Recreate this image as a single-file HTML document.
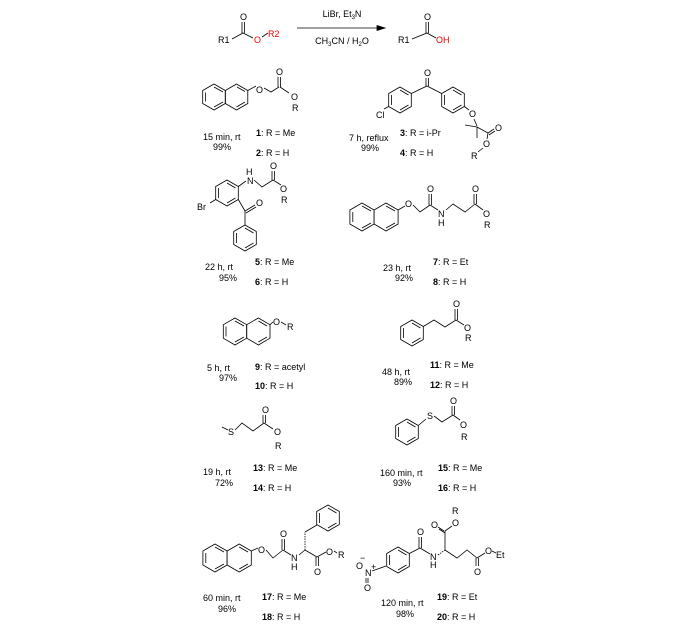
<!DOCTYPE html>
<html><head><meta charset="utf-8"><style>
html,body{margin:0;padding:0;background:#fff}
svg{display:block}
text{font-family:"Liberation Sans",Arial,sans-serif;font-size:9px;fill:#000}
.r{fill:#e00}
line,polyline,polygon{stroke:#000;stroke-width:0.8;fill:none}
.b{font-weight:bold}
</style></head><body>
<svg width="696" height="641" viewBox="0 0 696 641" xmlns="http://www.w3.org/2000/svg">
<!-- header -->
<text x="218" y="43">R1</text>
<polyline points="232,39 243,33 253,38"/>
<line x1="242" y1="33" x2="242" y2="22"/><line x1="244.5" y1="33" x2="244.5" y2="22"/>
<text x="240" y="20">O</text>
<text x="254" y="43" class="r">O</text>
<line x1="262" y1="37" x2="268" y2="33" stroke="#e00"/>
<text x="268" y="37" class="r">R2</text>
<line x1="297" y1="28" x2="380" y2="28"/>
<polygon points="385,28 377,25.5 377,30.5" style="fill:#000"/>
<text x="342" y="17" text-anchor="middle">LiBr, Et<tspan font-size="6" dy="2">3</tspan><tspan dy="-2">N</tspan></text>
<text x="342" y="44" text-anchor="middle">CH<tspan font-size="6" dy="2">3</tspan><tspan dy="-2">CN / H</tspan><tspan font-size="6" dy="2">2</tspan><tspan dy="-2">O</tspan></text>
<text x="398" y="43">R1</text>
<polyline points="412,39 427,33 436,38"/>
<line x1="426" y1="33" x2="426" y2="22"/><line x1="428.5" y1="33" x2="428.5" y2="22"/>
<text x="424" y="20">O</text>
<text x="436" y="43" class="r">OH</text>

<!-- 1/2 -->
<polygon points="214,84 225.3,90.5 225.3,103.5 214,110 202.7,103.5 202.7,90.5"/>
<polygon points="236.5,84 247.8,90.5 247.8,103.5 236.5,110 225.3,103.5 225.3,90.5"/>
<line x1="205.5" y1="92.5" x2="205.5" y2="101.5"/><line x1="214" y1="107" x2="223" y2="102"/><line x1="214" y1="87" x2="223" y2="92"/><line x1="237" y1="87" x2="245" y2="91.5"/><line x1="236.5" y1="107" x2="245" y2="102"/>
<line x1="247.8" y1="90.5" x2="256" y2="86"/>
<text x="256" y="93">O</text>
<polyline points="264,88 271,92 279,87"/>
<line x1="278" y1="87" x2="278" y2="77"/><line x1="280.5" y1="87" x2="280.5" y2="77"/>
<text x="276" y="75">O</text>
<line x1="280" y1="87" x2="289" y2="93"/>
<text x="291" y="100">O</text>
<text x="292" y="111" font-size="8">R</text>
<text x="203" y="140">15 min, rt</text><text x="213" y="150">99%</text>
<text x="256" y="136"><tspan class="b">1</tspan>: R = Me</text>
<text x="256" y="156"><tspan class="b">2</tspan>: R = H</text>

<!-- 3/4 -->
<polygon points="400,87 411.3,93.5 411.3,106.5 400,113 388.7,106.5 388.7,93.5"/>
<polygon points="453,87 464.3,93.5 464.3,106.5 453,113 441.7,106.5 441.7,93.5"/>
<line x1="391.5" y1="95" x2="391.5" y2="105"/><line x1="400" y1="110" x2="408.5" y2="105"/><line x1="400" y1="90" x2="408.5" y2="95"/><line x1="444.5" y1="95" x2="444.5" y2="105"/><line x1="453" y1="90" x2="461.5" y2="95"/><line x1="453" y1="110" x2="461.5" y2="105"/>
<polyline points="411.3,93.5 427,86 441.7,93.5"/>
<line x1="426" y1="86" x2="426" y2="78"/><line x1="428.5" y1="86" x2="428.5" y2="78"/>
<text x="424" y="76">O</text>
<line x1="388.7" y1="106.5" x2="384" y2="109"/>
<text x="376" y="118">Cl</text>
<line x1="464.3" y1="106.5" x2="469" y2="110"/>
<text x="469" y="117">O</text>
<line x1="474" y1="119" x2="477" y2="126"/>
<line x1="477" y1="127" x2="465" y2="125"/><line x1="477" y1="127" x2="477" y2="138"/>
<line x1="477" y1="127" x2="488" y2="133"/>
<line x1="488" y1="133" x2="494" y2="129"/><line x1="489" y1="135" x2="495" y2="131"/>
<text x="495" y="131">O</text>
<line x1="488" y1="133" x2="487" y2="139"/>
<text x="483" y="147">O</text>
<line x1="483" y1="148" x2="478" y2="152"/>
<text x="471" y="159" font-size="8">R</text>
<text x="349" y="141">7 h, reflux</text><text x="361" y="151">99%</text>
<text x="400" y="136"><tspan class="b">3</tspan>: R = i-Pr</text>
<text x="400" y="156"><tspan class="b">4</tspan>: R = H</text>

<!-- 5/6 -->
<polygon points="227,180 238.3,186.5 238.3,199.5 227,206 215.7,199.5 215.7,186.5"/>
<line x1="218.5" y1="188" x2="218.5" y2="198"/><line x1="227" y1="183" x2="235.5" y2="188"/><line x1="227" y1="203" x2="235.5" y2="198"/>
<line x1="215.7" y1="199.5" x2="210" y2="203"/>
<text x="197" y="210">Br</text>
<line x1="238.3" y1="186.5" x2="246" y2="181"/>
<text x="247" y="184">N</text><text x="246" y="175">H</text>
<polyline points="254,180 262,187 273,180"/>
<line x1="272" y1="180" x2="272" y2="171"/><line x1="274.5" y1="180" x2="274.5" y2="171"/>
<text x="270" y="169">O</text>
<line x1="273" y1="180" x2="281" y2="185"/>
<text x="280" y="192">O</text>
<text x="281" y="203" font-size="8">R</text>
<line x1="238.3" y1="199.5" x2="245" y2="211"/>
<line x1="245" y1="211" x2="255" y2="205"/><line x1="246" y1="213" x2="256" y2="207"/>
<text x="256" y="206">O</text>
<line x1="245" y1="211" x2="245" y2="225"/>
<polygon points="245,225 256.3,231.5 256.3,244.5 245,251 233.7,244.5 233.7,231.5"/>
<line x1="236.5" y1="233" x2="236.5" y2="243"/><line x1="245" y1="248" x2="253.5" y2="243"/><line x1="245" y1="228" x2="253.5" y2="233"/>
<text x="205" y="270">22 h, rt</text><text x="219" y="281">95%</text>
<text x="255" y="265"><tspan class="b">5</tspan>: R = Me</text>
<text x="255" y="285"><tspan class="b">6</tspan>: R = H</text>

<!-- 7/8 -->
<polygon points="362,203 374.1,210 374.1,224 362,231 349.9,224 349.9,210"/>
<polygon points="386,203 398.1,210 398.1,224 386,231 374.1,224 374.1,210"/>
<line x1="352.8" y1="212" x2="352.8" y2="222"/><line x1="362" y1="228" x2="371" y2="223"/><line x1="362" y1="206" x2="371" y2="211"/><line x1="386" y1="206" x2="395" y2="211"/><line x1="386" y1="228" x2="395" y2="223"/>
<line x1="398.1" y1="210" x2="405" y2="206"/>
<text x="405" y="207">O</text>
<polyline points="413,205 420,212 430,205"/>
<line x1="429" y1="205" x2="429" y2="194"/><line x1="431.5" y1="205" x2="431.5" y2="194"/>
<text x="427" y="192">O</text>
<line x1="430" y1="205" x2="438" y2="210"/>
<text x="438" y="217">N</text><text x="438" y="226">H</text>
<polyline points="446,210 453,204 465,212 475,204"/>
<line x1="474" y1="204" x2="474" y2="194"/><line x1="476.5" y1="204" x2="476.5" y2="194"/>
<text x="472" y="192">O</text>
<line x1="475" y1="204" x2="483" y2="210"/>
<text x="483" y="217">O</text>
<text x="484" y="228" font-size="8">R</text>
<text x="383" y="271">23 h, rt</text><text x="395" y="281">92%</text>
<text x="433" y="265"><tspan class="b">7</tspan>: R = Et</text>
<text x="433" y="285"><tspan class="b">8</tspan>: R = H</text>

<!-- 9/10 -->
<polygon points="235,318 246.7,324.7 246.7,338.2 235,345 223.3,338.2 223.3,324.7"/>
<polygon points="258.4,318 270,324.7 270,338.2 258.4,345 246.7,338.2 246.7,324.7"/>
<line x1="226" y1="326.5" x2="226" y2="336.5"/><line x1="235" y1="342" x2="244" y2="337"/><line x1="235" y1="321" x2="244" y2="326"/><line x1="258.4" y1="321" x2="267" y2="326"/><line x1="258.4" y1="342" x2="267" y2="337"/>
<line x1="270" y1="324.7" x2="273" y2="322"/>
<text x="273" y="325">O</text>
<line x1="281" y1="322" x2="286" y2="325"/>
<text x="287" y="330" font-size="8">R</text>
<text x="207" y="371">5 h, rt</text><text x="219" y="381">97%</text>
<text x="255" y="370"><tspan class="b">9</tspan>: R = acetyl</text>
<text x="255" y="389"><tspan class="b">10</tspan>: R = H</text>

<!-- 11/12 -->
<polygon points="412,320 423.3,326.5 423.3,339.5 412,346 400.7,339.5 400.7,326.5"/>
<line x1="403.5" y1="328" x2="403.5" y2="338"/><line x1="412" y1="343" x2="420.5" y2="338"/><line x1="412" y1="323" x2="420.5" y2="328"/>
<polyline points="423.3,326.5 434,320 445,327 456,320"/>
<line x1="455" y1="320" x2="455" y2="309"/><line x1="457.5" y1="320" x2="457.5" y2="309"/>
<text x="453" y="307">O</text>
<line x1="456" y1="320" x2="464" y2="325"/>
<text x="464" y="331">O</text>
<text x="465" y="341" font-size="8">R</text>
<text x="382" y="375">48 h, rt</text><text x="394" y="385">89%</text>
<text x="430" y="368"><tspan class="b">11</tspan>: R = Me</text>
<text x="430" y="388"><tspan class="b">12</tspan>: R = H</text>

<!-- 13/14 -->
<line x1="222" y1="427" x2="228" y2="430"/>
<text x="228" y="435">S</text>
<polyline points="235,430 242,423 253,431 264,423"/>
<line x1="263" y1="423" x2="263" y2="415"/><line x1="265.5" y1="423" x2="265.5" y2="415"/>
<text x="262" y="413">O</text>
<line x1="264" y1="423" x2="273" y2="429"/>
<text x="274" y="435">O</text>
<text x="275" y="449" font-size="8">R</text>
<text x="203" y="475">19 h, rt</text><text x="215" y="486">72%</text>
<text x="253" y="471"><tspan class="b">13</tspan>: R = Me</text>
<text x="253" y="491"><tspan class="b">14</tspan>: R = H</text>

<!-- 15/16 -->
<polygon points="407,419 418.3,425.5 418.3,438.5 407,445 395.7,438.5 395.7,425.5"/>
<line x1="398.5" y1="427" x2="398.5" y2="437"/><line x1="407" y1="442" x2="415.5" y2="437"/><line x1="407" y1="422" x2="415.5" y2="427"/>
<line x1="418.3" y1="425.5" x2="426" y2="419"/>
<text x="427" y="419">S</text>
<polyline points="434,416 442,422 453,415"/>
<line x1="452" y1="415" x2="452" y2="406"/><line x1="454.5" y1="415" x2="454.5" y2="406"/>
<text x="450" y="404">O</text>
<line x1="453" y1="415" x2="460" y2="420"/>
<text x="460" y="428">O</text>
<text x="461" y="440" font-size="8">R</text>
<text x="380" y="476">160 min, rt</text><text x="393" y="486">93%</text>
<text x="438" y="471"><tspan class="b">15</tspan>: R = Me</text>
<text x="438" y="491"><tspan class="b">16</tspan>: R = H</text>

<!-- 17/18 -->
<polygon points="215,544 227.1,551 227.1,565 215,572 202.9,565 202.9,551"/>
<polygon points="239.2,544 251.3,551 251.3,565 239.2,572 227.1,565 227.1,551"/>
<line x1="205.8" y1="553" x2="205.8" y2="563"/><line x1="215" y1="569" x2="224" y2="564"/><line x1="215" y1="547" x2="224" y2="552"/><line x1="239.2" y1="547" x2="248" y2="552"/><line x1="239.2" y1="569" x2="248" y2="564"/>
<line x1="251.3" y1="551" x2="258" y2="548"/>
<text x="258" y="553">O</text>
<polyline points="266,550 273,558 283,550"/>
<line x1="282" y1="550" x2="282" y2="539"/><line x1="284.5" y1="550" x2="284.5" y2="539"/>
<text x="280" y="537">O</text>
<line x1="283" y1="550" x2="291" y2="555"/>
<text x="291" y="561">N</text><text x="291" y="570">H</text>
<line x1="299" y1="555" x2="305" y2="550"/>
<line x1="305" y1="550" x2="305" y2="532" stroke-dasharray="1.5,1"/>
<line x1="305" y1="532" x2="317" y2="525"/>
<polygon points="328,505 339.3,511.5 339.3,524.5 328,531 316.7,524.5 316.7,511.5"/>
<line x1="319.5" y1="513" x2="319.5" y2="523"/><line x1="328" y1="528" x2="336.5" y2="523"/><line x1="328" y1="508" x2="336.5" y2="513"/>
<line x1="305" y1="550" x2="317" y2="557"/>
<line x1="316" y1="557" x2="316" y2="566"/><line x1="318.5" y1="557" x2="318.5" y2="566"/>
<text x="314" y="575">O</text>
<line x1="317" y1="557" x2="326" y2="552"/>
<text x="326" y="555">O</text>
<line x1="334" y1="551" x2="337" y2="553"/>
<text x="338" y="558">R</text>
<text x="203" y="601">60 min, rt</text><text x="218" y="612">96%</text>
<text x="262" y="600"><tspan class="b">17</tspan>: R = Me</text>
<text x="262" y="620"><tspan class="b">18</tspan>: R = H</text>

<!-- 19/20 -->
<text x="356" y="569">O</text><text x="360" y="561" font-size="7">−</text>
<text x="365" y="576">N</text><text x="371" y="570" font-size="6">+</text>
<line x1="366" y1="578" x2="366" y2="583"/><line x1="368" y1="578" x2="368" y2="583"/>
<text x="364" y="591">O</text>
<line x1="372" y1="571" x2="386" y2="566"/>
<polygon points="398,547 409.3,553.5 409.3,566.5 398,573 386.7,566.5 386.7,553.5"/>
<line x1="389.5" y1="555" x2="389.5" y2="565"/><line x1="398" y1="570" x2="406.5" y2="565"/><line x1="398" y1="550" x2="406.5" y2="555"/>
<line x1="409.3" y1="553.5" x2="420" y2="548"/>
<line x1="419" y1="548" x2="419" y2="537"/><line x1="421.5" y1="548" x2="421.5" y2="537"/>
<text x="417" y="535">O</text>
<line x1="420" y1="548" x2="430" y2="554"/>
<text x="430" y="560">N</text><text x="430" y="568">H</text>
<line x1="438" y1="555" x2="445" y2="550" stroke-dasharray="1.5,1"/>
<line x1="445" y1="550" x2="445" y2="531"/>
<line x1="444" y1="531" x2="438" y2="527"/><line x1="445" y1="533" x2="439" y2="529"/>
<text x="431" y="528">O</text>
<line x1="445" y1="531" x2="452" y2="526"/>
<text x="452" y="526">O</text>
<text x="452" y="514" font-size="8">R</text>
<polyline points="445,550 457,558 467,550 477,558"/>
<line x1="476" y1="558" x2="476" y2="566"/><line x1="478.5" y1="558" x2="478.5" y2="566"/>
<text x="474" y="575">O</text>
<line x1="477" y1="558" x2="485" y2="553"/>
<text x="485" y="554">O</text>
<line x1="492" y1="551" x2="496" y2="553"/>
<text x="496" y="558">Et</text>
<text x="381" y="606">120 min, rt</text><text x="396" y="617">98%</text>
<text x="437" y="600"><tspan class="b">19</tspan>: R = Et</text>
<text x="437" y="620"><tspan class="b">20</tspan>: R = H</text>
</svg>
</body></html>
